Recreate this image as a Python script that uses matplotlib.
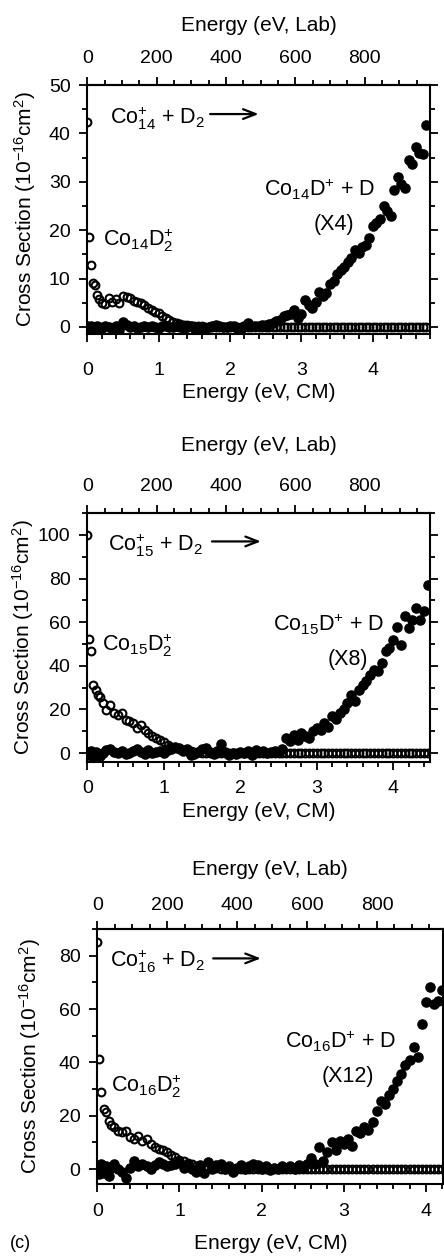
import matplotlib
matplotlib.use("Agg")
import matplotlib.pyplot as plt
from matplotlib.ticker import MultipleLocator

plt.rcParams["font.family"] = ["Liberation Sans", "DejaVu Sans"]
plt.rcParams["mathtext.fontset"] = "custom"
plt.rcParams["mathtext.rm"] = "Liberation Sans"
plt.rcParams["mathtext.it"] = "Liberation Sans:italic"
plt.rcParams["mathtext.default"] = "rm"

# cluster sizes (Co_n), mass of Co and D2 for the lab energy scale
cluster_n = [14, 15, 16]
scale_labels = ["(X4)", "(X8)", "(X12)"]
m_co = 58.933
m_d2 = 4.028
lab_ticks = [0, 200, 400, 600, 800]
lab_minor = [50, 100, 150, 250, 300, 350, 450, 500, 550, 650, 700, 750,
             850, 900, 950]

# ---- Co14 ----
energy14 = [0.00, 0.02, 0.05, 0.08, 0.11, 0.14, 0.17, 0.20, 0.25, 0.30,
            0.35, 0.40, 0.45, 0.50, 0.55, 0.60, 0.65, 0.70, 0.75, 0.80,
            0.85, 0.90, 0.95, 1.00, 1.05, 1.10, 1.15, 1.20, 1.25, 1.30,
            1.35, 1.40, 1.45, 1.50, 1.55, 1.60, 1.65, 1.70, 1.75, 1.80,
            1.85, 1.90, 1.95, 2.00, 2.05, 2.10, 2.15, 2.20, 2.25, 2.30,
            2.35, 2.40, 2.45, 2.50, 2.55, 2.60, 2.65, 2.70, 2.75, 2.80,
            2.85, 2.90, 2.95, 3.00, 3.05, 3.10, 3.15, 3.20, 3.25, 3.30,
            3.35, 3.40, 3.45, 3.50, 3.55, 3.60, 3.65, 3.70, 3.75, 3.80,
            3.85, 3.90, 3.95, 4.00, 4.05, 4.10, 4.15, 4.20, 4.25, 4.30,
            4.35, 4.40, 4.45, 4.50, 4.55, 4.60, 4.65, 4.70, 4.75]
d2_14 = [42.4, 18.6, 12.8, 9.0, 8.6, 6.6, 5.8, 5.0, 4.8, 6.0,
         5.2, 5.8, 5.0, 6.3, 6.2, 5.9, 5.4, 5.2, 4.9, 4.5,
         4.0, 3.5, 3.1, 2.8, 2.3, 1.8, 1.4, 1.1, 0.9, 0.7,
         0.5, 0.4, 0.3, 0.2, 0.1, 0.1, 0.0, 0.0, 0.0, 0.0,
         0.0, 0.0, 0.0, 0.0, 0.0, 0.0, 0.0, 0.0, 0.0, 0.0,
         0.0, 0.0, 0.0, 0.0, 0.0, 0.0, 0.0, 0.0, 0.0, 0.0,
         0.0, 0.0, 0.0, 0.0, 0.0, 0.0, 0.0, 0.0, 0.0, 0.0,
         0.0, 0.0, 0.0, 0.0, 0.0, 0.0, 0.0, 0.0, 0.0, 0.0,
         0.0, 0.0, 0.0, 0.0, 0.0, 0.0, 0.0, 0.0, 0.0, 0.0,
         0.0, 0.0, 0.0, 0.0, 0.0, 0.0, 0.0, 0.0, 0.0]
d_14 = [0.3, -0.3, 0.2, 0.0, -0.2, 0.3, 0.0, -0.3, 0.2, 0.0,
        -0.2, 0.1, -0.6, 1.0, 0.4, 0.0, 0.2, -0.2, 0.0, 0.1,
        -0.1, 0.2, 0.0, -0.2, 0.1, 0.3, 0.0, -0.1, 0.2, 0.0,
        -0.2, 0.0, 0.1, -0.2, -0.3, -0.5, -0.2, 0.0, 0.2, 0.4,
        0.1, 0.0, -0.1, 0.2, 0.1, -0.2, -0.4, 0.3, 0.9, 0.2,
        0.3, 0.2, 0.5, 0.4, 0.7, 0.8, 1.2, 1.5, 2.3, 2.5,
        2.6, 3.5, 1.8, 2.6, 5.6, 4.5, 4.0, 5.2, 7.2, 6.5,
        7.0, 8.8, 9.4, 11.0, 11.8, 12.4, 13.5, 14.3, 16.0, 15.2,
        16.5, 17.0, 18.3, 20.8, 21.5, 22.3, 25.0, 24.0, 23.0, 28.3,
        31.0, 29.5, 28.8, 34.5, 33.6, 37.2, 36.0, 35.8, 41.7]

# ---- Co15 ----
energy15 = [0.00, 0.02, 0.05, 0.08, 0.11, 0.14, 0.17, 0.20, 0.25, 0.30,
            0.35, 0.40, 0.45, 0.50, 0.55, 0.60, 0.65, 0.70, 0.75, 0.80,
            0.85, 0.90, 0.95, 1.00, 1.05, 1.10, 1.15, 1.20, 1.25, 1.30,
            1.35, 1.40, 1.45, 1.50, 1.55, 1.60, 1.65, 1.70, 1.75, 1.80,
            1.85, 1.90, 1.95, 2.00, 2.05, 2.10, 2.15, 2.20, 2.25, 2.30,
            2.35, 2.40, 2.45, 2.50, 2.55, 2.60, 2.65, 2.70, 2.75, 2.80,
            2.85, 2.90, 2.95, 3.00, 3.05, 3.10, 3.15, 3.20, 3.25, 3.30,
            3.35, 3.40, 3.45, 3.50, 3.55, 3.60, 3.65, 3.70, 3.75, 3.80,
            3.85, 3.90, 3.95, 4.00, 4.05, 4.10, 4.15, 4.20, 4.25, 4.30,
            4.35, 4.40, 4.45]
d2_15 = [100.0, 52.5, 46.6, 31.3, 29.0, 26.5, 25.5, 22.9, 19.8, 22.0,
         18.3, 17.6, 18.3, 15.3, 14.5, 13.7, 11.5, 13.0, 10.7, 9.2,
         8.0, 7.0, 6.0, 4.9, 3.8, 3.0, 2.5, 2.0, 1.5, 1.0,
         0.8, 0.5, 0.3, 0.2, 0.1, 0.0, 0.0, 0.0, 0.0, 0.0,
         0.0, 0.0, 0.0, 0.0, 0.0, 0.0, 0.0, 0.0, 0.0, 0.0,
         0.0, 0.0, 0.0, 0.0, 0.0, 0.0, 0.0, 0.0, 0.0, 0.0,
         0.0, 0.0, 0.0, 0.0, 0.0, 0.0, 0.0, 0.0, 0.0, 0.0,
         0.0, 0.0, 0.0, 0.0, 0.0, 0.0, 0.0, 0.0, 0.0, 0.0,
         0.0, 0.0, 0.0, 0.0, 0.0, 0.0, 0.0, 0.0, 0.0, 0.0,
         0.0, 0.0, 0.0]
d_15 = [0.5, -1.0, 1.0, -2.0, 0.5, -0.5, -1.5, 0.0, 1.5, 2.0,
        0.5, 0.0, 1.0, -0.5, 0.0, 1.0, 2.0, 0.5, -0.5, 1.5,
        0.0, 0.5, 1.0, 0.0, 1.5, 2.0, 3.0, 2.5, 1.0, 2.0,
        -1.0, -0.5, 0.5, 2.0, 2.5, 0.5, -0.5, 1.0, 4.0, 0.5,
        -1.0, 0.0, -0.5, 0.5, 0.0, 1.0, -1.0, 1.5, 0.5, 1.0,
        0.0, 0.5, 1.0, 0.5, 2.0, 6.9, 5.5, 8.4, 6.0, 9.2,
        8.0, 7.0, 10.0, 11.5, 10.5, 13.7, 12.0, 17.0, 15.5, 18.3,
        20.0, 22.9, 26.7, 24.0, 29.0, 31.3, 33.0, 35.9, 38.0, 37.4,
        41.2, 46.6, 48.0, 51.9, 58.0, 49.6, 62.6, 57.5, 61.0, 66.4,
        61.0, 64.9, 77.0]

# ---- Co16 ----
energy16 = [0.00, 0.02, 0.05, 0.08, 0.11, 0.14, 0.17, 0.20, 0.25, 0.30,
            0.35, 0.40, 0.45, 0.50, 0.55, 0.60, 0.65, 0.70, 0.75, 0.80,
            0.85, 0.90, 0.95, 1.00, 1.05, 1.10, 1.15, 1.20, 1.25, 1.30,
            1.35, 1.40, 1.45, 1.50, 1.55, 1.60, 1.65, 1.70, 1.75, 1.80,
            1.85, 1.90, 1.95, 2.00, 2.05, 2.10, 2.15, 2.20, 2.25, 2.30,
            2.35, 2.40, 2.45, 2.50, 2.55, 2.60, 2.65, 2.70, 2.75, 2.80,
            2.85, 2.90, 2.95, 3.00, 3.05, 3.10, 3.15, 3.20, 3.25, 3.30,
            3.35, 3.40, 3.45, 3.50, 3.55, 3.60, 3.65, 3.70, 3.75, 3.80,
            3.85, 3.90, 3.95, 4.00, 4.05, 4.10, 4.15, 4.20]
d2_16 = [85.3, 41.1, 28.8, 22.6, 21.3, 18.2, 16.5, 15.7, 14.4, 13.8,
         14.4, 11.9, 11.3, 12.5, 10.7, 11.3, 9.4, 8.2, 7.5, 7.0,
         6.5, 5.3, 4.4, 3.5, 3.0, 2.2, 1.8, 1.2, 1.0, 0.7,
         0.5, 0.4, 0.3, 0.2, 0.1, 0.0, 0.0, 0.0, 0.0, 0.0,
         0.0, 0.0, 0.0, 0.0, 0.0, 0.0, 0.0, 0.0, 0.0, 0.0,
         0.0, 0.0, 0.0, 0.0, 0.0, 0.0, 0.0, 0.0, 0.0, 0.0,
         0.0, 0.0, 0.0, 0.0, 0.0, 0.0, 0.0, 0.0, 0.0, 0.0,
         0.0, 0.0, 0.0, 0.0, 0.0, 0.0, 0.0, 0.0, 0.0, 0.0,
         0.0, 0.0, 0.0, 0.0, 0.0, 0.0, 0.0, 0.0]
d_16 = [1.0, -2.0, 2.0, -1.5, 1.0, -2.5, 0.5, 2.0, 0.0, -1.0,
        -3.5, 0.5, 3.0, 1.0, 2.0, 1.0, 0.0, 1.5, 2.5, 2.0,
        1.0, 1.5, 2.0, 2.5, 0.5, 1.5, 0.0, -1.0, 1.5, -1.5,
        2.5, 0.0, 1.5, 2.0, 0.0, 1.0, -1.0, 0.5, 1.5, 0.0,
        1.0, 2.0, 1.5, 0.0, 1.0, -0.5, 0.5, 0.0, 1.0, 0.5,
        1.0, 0.0, 1.5, 0.5, 2.0, 4.0, 2.0, 8.2, 3.1, 6.5,
        10.0, 7.0, 10.5, 9.4, 11.3, 8.8, 14.4, 13.5, 15.7, 14.5,
        17.6, 21.9, 25.7, 24.5, 27.6, 30.1, 33.2, 35.7, 38.9, 40.8,
        45.8, 42.0, 54.5, 62.7, 68.3, 62.0, 63.0, 67.0]

energies = [energy14, energy15, energy16]
d2_vals = [d2_14, d2_15, d2_16]
d_vals = [d_14, d_15, d_16]

# layout per panel (figure fractions, limits, label offsets)
boxes = [[0.1966, 0.7341, 0.7718, 0.1982],
         [0.1966, 0.3933, 0.7718, 0.1982],
         [0.2191, 0.0573, 0.7793, 0.2030]]
xlims = [(0, 4.80), (0, 4.48), (0, 4.21)]
ylims = [(-1.45, 50), (-4.1, 110), (-5.6, 90)]
ymajor = [10, 20, 20]
yminor = [5, 10, 10]
bot_pad = [14, 7, 8]
top_pad = [7, 7, 5]
top_lab_y = [1.241, 1.273, 1.235]
bot_lab_y = [-0.237, -0.197, -0.235]
ylab_x = [-0.182, -0.188, -0.195]
# text positions (data coords): reactant, arrow, D2 product, D product, scale
reac_xy = [(0.32, 41.9), (0.27, 92.8), (0.15, 75.9)]
arrow_x = [(1.72, 2.40), (1.63, 2.27), (1.41, 1.99)]
arrow_y = [44.0, 97.0, 79.0]
pd2_xy = [(0.22, 16.7), (0.19, 46.6), (0.17, 28.8)]
pd_xy = [(2.47, 26.9), (2.43, 55.7), (2.28, 45.1)]
scale_xy = [(3.45, 20.0), (3.41, 40.5), (3.05, 32.6)]

fs_tick = 14
fs_lab = 15
fs_txt = 15.5

fig = plt.figure(figsize=(4.44, 12.56), dpi=100)

for i in range(3):
    n = cluster_n[i]
    ax = fig.add_axes(boxes[i])
    # open circles: CoD2+, filled: CoD+ (scaled)
    ax.plot(energies[i], d2_vals[i], "o", mfc="none", mec="black",
            ms=5.6, mew=1.5, zorder=3)
    ax.plot(energies[i], d_vals[i], "o", color="black", ms=6.6, zorder=2)

    ax.set_xlim(*xlims[i])
    ax.set_ylim(*ylims[i])
    ax.xaxis.set_major_locator(MultipleLocator(1))
    ax.xaxis.set_minor_locator(MultipleLocator(0.2))
    ax.yaxis.set_major_locator(MultipleLocator(ymajor[i]))
    ax.yaxis.set_minor_locator(MultipleLocator(yminor[i]))
    ax.tick_params(which="both", direction="out", top=False, right=True,
                   width=1.3, labelsize=fs_tick)
    ax.tick_params(which="major", length=6)
    ax.tick_params(which="minor", length=3.5)
    ax.tick_params(axis="x", which="major", pad=bot_pad[i])
    ax.tick_params(axis="y", which="major", pad=6)
    for sp in ax.spines.values():
        sp.set_linewidth(1.5)

    f = (n * m_co + m_d2) / m_d2
    sec = ax.secondary_xaxis("top", functions=(lambda e, f=f: e * f,
                                               lambda l, f=f: l / f))
    sec.set_xticks(lab_ticks)
    sec.set_xticks([t for t in lab_minor if t / f <= xlims[i][1]], minor=True)
    sec.tick_params(which="both", direction="out", width=1.3,
                    labelsize=fs_tick)
    sec.tick_params(which="major", length=6, pad=top_pad[i])
    sec.tick_params(which="minor", length=3.5)
    sec.spines["top"].set_linewidth(1.5)
    sec.set_xlabel("Energy (eV, Lab)", fontsize=fs_lab, va="center")
    sec.xaxis.set_label_coords(0.5, top_lab_y[i], transform=ax.transAxes)

    ax.set_xlabel("Energy (eV, CM)", fontsize=fs_lab, va="center")
    ax.xaxis.set_label_coords(0.5, bot_lab_y[i])
    ax.set_ylabel(r"Cross Section (10$^{-16}$cm$^{2}$)", fontsize=fs_lab,
                  va="center")
    ax.yaxis.set_label_coords(ylab_x[i], 0.5)

    ax.text(*reac_xy[i], r"Co$_{%d}^{+}$ + D$_{2}$" % n, fontsize=fs_txt,
            va="baseline", ha="left")
    ax.annotate("", xy=(arrow_x[i][1], arrow_y[i]),
                xytext=(arrow_x[i][0], arrow_y[i]),
                arrowprops=dict(arrowstyle="->,head_length=0.9,head_width=0.35",
                                lw=1.6, color="black", shrinkA=0, shrinkB=0))
    ax.text(*pd2_xy[i], r"Co$_{%d}$D$_{2}^{+}$" % n, fontsize=fs_txt,
            va="baseline", ha="left")
    ax.text(*pd_xy[i], r"Co$_{%d}$D$^{+}$ + D" % n, fontsize=fs_txt,
            va="baseline", ha="left")
    ax.text(*scale_xy[i], scale_labels[i], fontsize=fs_txt,
            va="baseline", ha="center")

fig.text(10 / 444, 1 - 1244 / 1256, "(c)", fontsize=13, va="center",
         ha="left")

fig.savefig("out.png", dpi=100)
